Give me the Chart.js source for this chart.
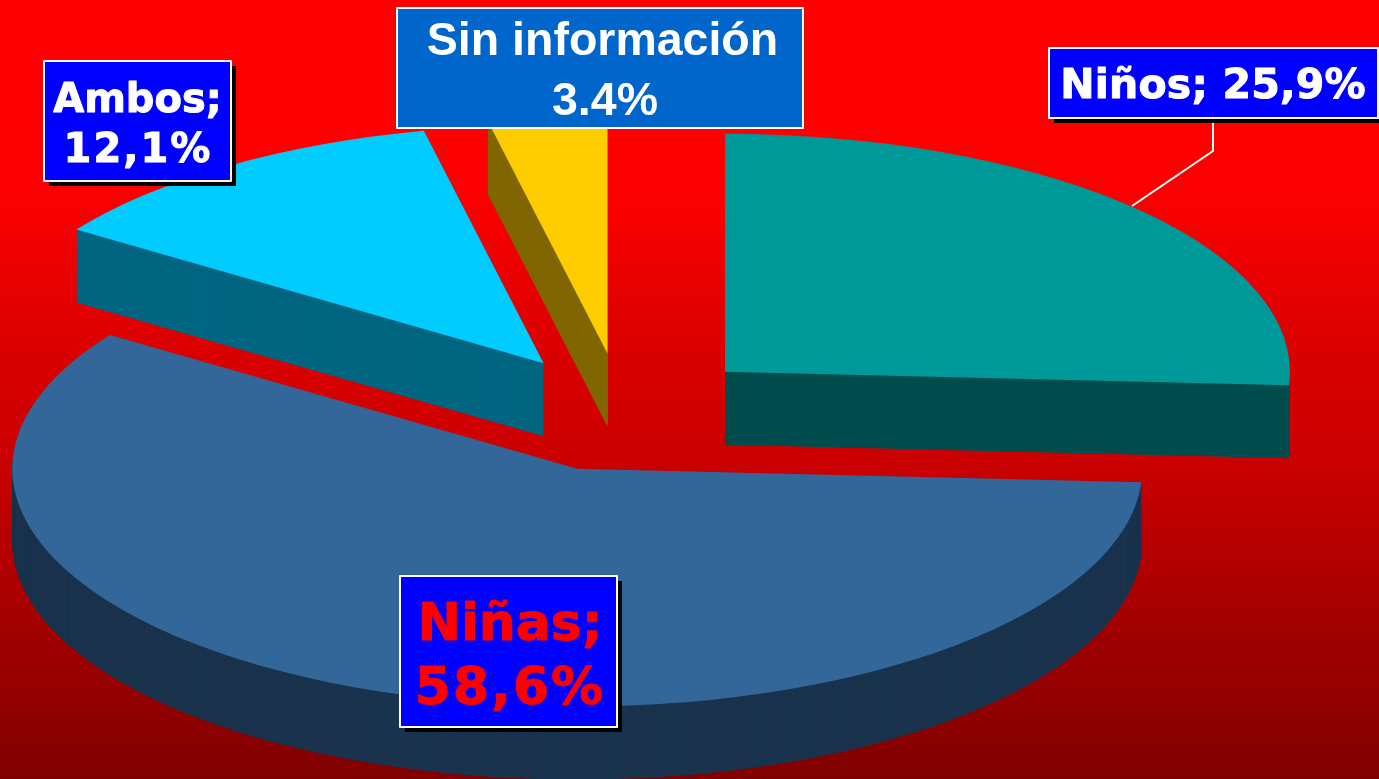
<!DOCTYPE html>
<html>
<head>
<meta charset="utf-8">
<style>
  html, body { margin: 0; padding: 0; background: #800000; overflow: hidden; }
  canvas { display: block; }
</style>
<script src="https://cdn.jsdelivr.net/npm/chart.js@4"></script>
</head>
<body>
<canvas id="pie3d" width="1379" height="779"></canvas>
<script>
const categories = ['Niños', 'Niñas', 'Ambos', 'Sin información'];
const shares = [25.9, 58.6, 12.1, 3.4];
const topColors = ['#009999', '#336699', '#00CCFF', '#FFCC00'];
const sideColors = ['#004D4D', '#1A334D', '#006680', '#806600'];

const labelLines = [['Niños; 25,9%'], ['Niñas;', '58,6%'], ['Ambos;', '12,1%'], ['Sin información', '3.4%']];
const labelBoxes = [[1049, 48, 329, 70], [400, 576, 217, 151], [44, 61, 187, 120], [397, 8, 406, 120]];
const labelBaselines = [[98], [640, 704], [112, 162], [55, 115]];
const labelCenters = [[1213], [510, 510], [137.5, 138], [602.5, 605]];
const labelTracking = [[0.2], [0, 2], [0, 2], [0, 0]];
const labelFonts = ['bold 41px "DejaVu Sans"', 'bold 52px "DejaVu Sans"', 'bold 40px "DejaVu Sans"', 'bold 46.5px "Liberation Sans"'];
const labelText = ['#FFFFFF', '#FF0000', '#FFFFFF', '#FFFFFF'];
const labelFill = ['#0000FF', '#0000FF', '#0000FF', '#0066CC'];
const labelShadow = [true, true, true, false];
const labelWeight = [1, 1, 1, 0]; // the original face is heavier than DejaVu Bold

// tilt of the fake 3D view
const TILT = 0.421;
const DEPTH = 73;
const EXPLODE = 141;
const CENTER_Y = 412.5;

function fillSlice(ctx, arc, lift, color) {
  const mid = (arc.startAngle + arc.endAngle) / 2;
  ctx.save();
  ctx.translate(0, CENTER_Y + lift);
  ctx.scale(1, TILT);
  ctx.translate(Math.cos(mid) * EXPLODE, Math.sin(mid) * EXPLODE - arc.y);
  ctx.beginPath();
  ctx.moveTo(arc.x, arc.y);
  ctx.arc(arc.x, arc.y, arc.outerRadius, arc.startAngle, arc.endAngle);
  ctx.closePath();
  ctx.fillStyle = color;
  ctx.fill();
  ctx.restore();
}

const pie3d = {
  id: 'pie3d',
  beforeDraw(chart) {
    const { ctx, width, height } = chart;
    const bg = ctx.createLinearGradient(0, 0, 0, height);
    bg.addColorStop(0, '#FF0000');
    bg.addColorStop(0.16, '#FF0000');
    bg.addColorStop(0.26, '#FA0000');
    bg.addColorStop(0.42, '#DF0000');
    bg.addColorStop(0.58, '#CC0000');
    bg.addColorStop(1, '#800000');
    ctx.fillStyle = bg;
    ctx.fillRect(0, 0, width, height);
  },
  beforeDatasetsDraw(chart) {
    const { ctx } = chart;
    const arcs = chart.getDatasetMeta(0).data;
    arcs.forEach((arc, i) => {
      for (let d = DEPTH; d > 0; d--) fillSlice(ctx, arc, d, sideColors[i]);
    });
    arcs.forEach((arc, i) => fillSlice(ctx, arc, 0, topColors[i]));
    return false;
  },
  afterDraw(chart) {
    const { ctx } = chart;

    // leader line of the Niños label
    ctx.strokeStyle = '#FFFFFF';
    ctx.lineWidth = 2;
    ctx.beginPath();
    ctx.moveTo(1132, 206);
    ctx.lineTo(1213, 151);
    ctx.lineTo(1213, 120);
    ctx.stroke();

    categories.forEach((name, i) => {
      const [x, y, w, h] = labelBoxes[i];
      if (labelShadow[i]) {
        ctx.fillStyle = '#000000';
        ctx.fillRect(x + 5, y + 5, w, h);
      }
      ctx.fillStyle = labelFill[i];
      ctx.fillRect(x, y, w, h);
      ctx.strokeStyle = '#FFFFFF';
      ctx.lineWidth = 2;
      ctx.strokeRect(x, y, w, h);

      ctx.font = labelFonts[i];
      ctx.fillStyle = labelText[i];
      ctx.strokeStyle = labelText[i];
      ctx.lineWidth = labelWeight[i];
      ctx.lineJoin = 'round';
      ctx.textAlign = 'center';
      ctx.textBaseline = 'alphabetic';
      labelLines[i].forEach((line, n) => {
        ctx.letterSpacing = labelTracking[i][n] + 'px';
        ctx.fillText(line, labelCenters[i][n], labelBaselines[i][n]);
        if (labelWeight[i]) ctx.strokeText(line, labelCenters[i][n], labelBaselines[i][n]);
      });
      ctx.letterSpacing = '0px';
    });
  }
};

new Chart(document.getElementById('pie3d'), {
  type: 'pie',
  data: {
    labels: categories,
    datasets: [{ data: shares, backgroundColor: topColors, borderWidth: 0 }]
  },
  options: {
    responsive: false,
    animation: false,
    radius: 565,
    layout: { padding: { right: 134 } },
    events: [],
    plugins: { legend: { display: false }, tooltip: { enabled: false } }
  },
  plugins: [pie3d]
});
</script>
</body>
</html>
